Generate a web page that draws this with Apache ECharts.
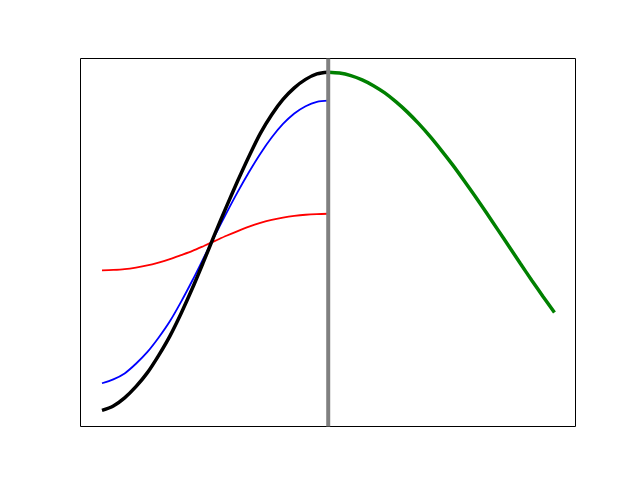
<!DOCTYPE html>
<html>
<head>
<meta charset="utf-8">
<script src="https://cdn.jsdelivr.net/npm/echarts@6/dist/echarts.min.js"></script>
<style>
html,body{margin:0;padding:0;background:#fff;}
#chart{width:640px;height:480px;}
</style>
</head>
<body>
<div id="chart"></div>
<script>
const xLeft = [0, 0.1, 0.2, 0.3, 0.4, 0.5, 0.6, 0.7, 0.8, 0.9, 1.0, 1.1, 1.2, 1.3, 1.4, 1.5, 1.6, 1.7, 1.8, 1.9, 2.0];
const blackVals = [-0.993, -0.967, -0.919, -0.853, -0.772, -0.670, -0.555, -0.420, -0.272, -0.113, 0.05, 0.208, 0.36, 0.505, 0.64, 0.75, 0.84, 0.908, 0.958, 0.99, 1.0];
const blueVals = [-0.833, -0.81, -0.775, -0.718, -0.65, -0.565, -0.468, -0.352, -0.226, -0.093, 0.04, 0.17, 0.295, 0.412, 0.52, 0.615, 0.695, 0.757, 0.80, 0.826, 0.833];
const redVals = [-0.168, -0.165, -0.160, -0.151, -0.139, -0.122, -0.102, -0.078, -0.053, -0.024, 0.006, 0.036, 0.064, 0.09, 0.112, 0.13, 0.143, 0.153, 0.160, 0.164, 0.166];
const xRight = [2.0, 2.1, 2.2, 2.3, 2.4, 2.5, 2.6, 2.7, 2.8, 2.9, 3.0, 3.1, 3.2, 3.3, 3.4, 3.5, 3.6, 3.7, 3.8, 3.9, 4.0];
const greenVals = [1.0, 0.995, 0.98, 0.955, 0.921, 0.878, 0.825, 0.765, 0.697, 0.622, 0.54, 0.454, 0.362, 0.267, 0.17, 0.071, -0.029, -0.129, -0.227, -0.323, -0.416];
const vlineX = [2.0, 2.0];
const yLimits = [-1.088, 1.081];
const xLimits = [-0.19, 4.186];

function pairs(xs, ys) { return xs.map((x, i) => [x, ys[i]]); }

const chart = echarts.init(document.getElementById('chart'), null, {renderer: 'canvas'});
const lineSeries = (name, xs, ys, color, width) => ({
  name, type: 'line', data: pairs(xs, ys), showSymbol: false, symbol: 'none',
  smooth: 0.3, lineStyle: {color, width}, z: 2
});
chart.setOption({
  animation: false,
  backgroundColor: '#fff',
  grid: {left: 80.5, right: 64.5, top: 58.5, bottom: 53.5, show: true, borderColor: '#000', borderWidth: 1, backgroundColor: 'transparent'},
  xAxis: {type: 'value', min: xLimits[0], max: xLimits[1], axisLine: {show: false}, axisTick: {show: false}, axisLabel: {show: false}, splitLine: {show: false}},
  yAxis: {type: 'value', min: yLimits[0], max: yLimits[1], axisLine: {show: false}, axisTick: {show: false}, axisLabel: {show: false}, splitLine: {show: false}},
  series: [
    lineSeries('red', xLeft, redVals, '#ff0000', 1.8),
    lineSeries('blue', xLeft, blueVals, '#0000ff', 1.8),
    lineSeries('black', xLeft, blackVals, '#000000', 3.5),
    lineSeries('green', xRight, greenVals, '#008000', 3.5),
    {name: 'vline', type: 'line', data: pairs(vlineX, yLimits), showSymbol: false, symbol: 'none',
     lineStyle: {color: '#808080', width: 4}, z: 5}
  ]
});
</script>
</body>
</html>
